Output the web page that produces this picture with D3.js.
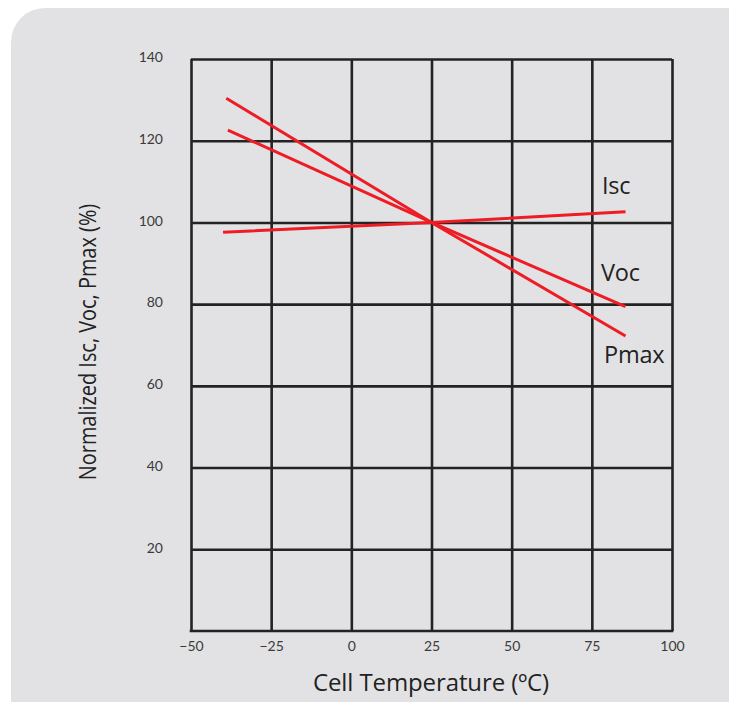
<!DOCTYPE html>
<html>
<head>
<meta charset="utf-8">
<script src="https://cdn.jsdelivr.net/npm/d3@7"></script>
<style>
  body { margin: 0; background: #fff; }
  svg { display: block; }
</style>
</head>
<body>
<svg id="chart" width="729" height="702"></svg>
<script>
// data
const xTicks = [-50, -25, 0, 25, 50, 75, 100];
const yTicks = [20, 40, 60, 80, 100, 120, 140];
const seriesNames = ['Isc', 'Voc', 'Pmax'];
const isc = [[-40, 97.6], [25, 100], [85.5, 102.6]];
const voc = [[-38.5, 122.6], [25, 100], [85.5, 79.4]];
const pmax = [[-39, 130.4], [25, 100], [85.5, 72.2]];

function drawChart() {
  const svg = d3.select('svg#chart');
  const left = 191, right = 672, top = 59, bottom = 631;
  const gridColor = '#232323';
  const lineColor = '#ee1c25';

  // grey card
  svg.append('rect')
    .attr('x', 11).attr('y', 8)
    .attr('width', 760).attr('height', 730)
    .attr('rx', 34)
    .attr('fill', '#e2e2e4');

  const x = d3.scaleLinear().domain([-50, 100]).range([left, right]);
  const y = d3.scaleLinear().domain([0, 140]).range([bottom, top]);

  // vertical grid + x tick labels
  const xAxis = svg.append('g')
    .attr('transform', `translate(0 ${bottom})`)
    .call(d3.axisBottom(x).tickValues(xTicks).tickSize(bottom - top).tickSizeOuter(0));
  xAxis.select('.domain').remove();
  xAxis.selectAll('.tick line')
    .attr('y2', -(bottom - top))
    .attr('stroke', gridColor).attr('stroke-width', 2.6);
  xAxis.selectAll('.tick text')
    .attr('y', 10)
    .attr('dy', '0.71em')
    .attr('font-family', 'Lato, sans-serif')
    .attr('font-size', 14)
    .attr('fill', '#3a3a3a');

  // horizontal grid + y tick labels
  const yAxis = svg.append('g')
    .attr('transform', `translate(${left} 0)`)
    .call(d3.axisLeft(y).tickValues(yTicks).tickSize(0));
  yAxis.select('.domain').remove();
  yAxis.selectAll('.tick line')
    .attr('x2', right - left)
    .attr('stroke', gridColor).attr('stroke-width', 2.6);
  yAxis.selectAll('.tick text')
    .attr('x', -28)
    .attr('dy', '0.2em')
    .attr('font-family', 'Lato, sans-serif')
    .attr('font-size', 14)
    .attr('fill', '#3a3a3a');

  // bottom edge of the frame
  svg.append('line')
    .attr('x1', left - 1.3).attr('x2', right + 1.3)
    .attr('y1', y(0)).attr('y2', y(0))
    .attr('stroke', gridColor).attr('stroke-width', 2.6);

  // series lines
  const line = d3.line().x((d) => x(d[0])).y((d) => y(d[1]));
  const allSeries = [isc, voc, pmax];
  svg.selectAll('path.series').data(allSeries).enter()
    .append('path')
    .attr('class', 'series')
    .attr('d', line)
    .attr('fill', 'none')
    .attr('stroke', lineColor)
    .attr('stroke-width', 3);

  // series labels
  const labelPos = [[602, 194], [601, 281], [604, 363]];
  svg.selectAll('text.series-label').data(seriesNames).enter()
    .append('text')
    .attr('class', 'series-label')
    .attr('x', (d, i) => labelPos[i][0])
    .attr('y', (d, i) => labelPos[i][1])
    .attr('font-family', '"Open Sans", sans-serif')
    .attr('font-size', 23.5)
    .attr('letter-spacing', -0.2)
    .attr('fill', '#222')
    .text((d) => d);

  // axis titles
  svg.append('text')
    .attr('x', 431)
    .attr('y', 691)
    .attr('text-anchor', 'middle')
    .attr('font-family', '"Open Sans", sans-serif')
    .attr('font-size', 24)
    .attr('letter-spacing', -0.1)
    .attr('fill', '#222')
    .text('Cell Temperature (ºC)');

  svg.append('text')
    .attr('transform', 'translate(96 342) rotate(-90) scale(0.83 1)')
    .attr('text-anchor', 'middle')
    .attr('font-family', '"Open Sans", sans-serif')
    .attr('font-size', 24)
    .attr('fill', '#222')
    .text('Normalized Isc, Voc, Pmax (%)');
}

drawChart();
</script>
</body>
</html>
